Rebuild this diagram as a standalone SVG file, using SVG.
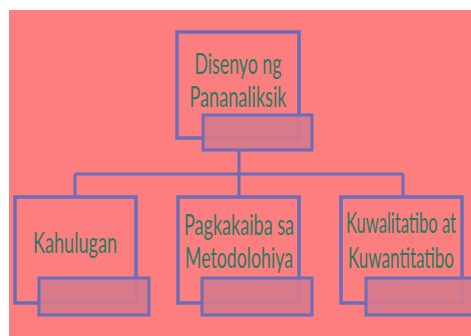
<svg xmlns="http://www.w3.org/2000/svg" width="471" height="336" viewBox="0 0 471 336">
<style>
.bg{fill:#fd7e7e}
.box{fill:#fd7e7e;stroke:#6b6db8;stroke-width:3.5}
.sub{fill:#d67a8c;fill-opacity:0.92;stroke:#6b6db8;stroke-width:3}
.conn{fill:none;stroke:#6b6db8;stroke-width:3}
.t{font-family:Lato,"Open Sans","Liberation Sans",sans-serif;font-size:16px;fill:#2c7a64;text-anchor:middle}
</style>
<rect x="0" y="0" width="471" height="336" fill="#ffffff"/>
<rect class="bg" x="9" y="10" width="462" height="326"/>
<g id="connectors">
<path class="conn" d="M239,150 V174 M75,174 H403 M75,174 V197 M239,174 V197 M403,174 V197"/>
</g>
<g id="node-top">
<rect class="box" x="177" y="32" width="122" height="106"/>
<text class="t" transform="translate(238,74) scale(1,1.75)" textLength="87" lengthAdjust="spacingAndGlyphs">Disenyo ng</text>
<text class="t" transform="translate(238,107) scale(1,1.75)" textLength="97" lengthAdjust="spacingAndGlyphs">Pananaliksik</text>
<rect class="sub" x="203" y="115" width="109" height="35"/>
</g>
<g id="node-kahulugan">
<rect class="box" x="15" y="197" width="121" height="106"/>
<text class="t" transform="translate(75,253) scale(1,1.75)" textLength="84" lengthAdjust="spacingAndGlyphs">Kahulugan</text>
<rect class="sub" x="39" y="278" width="110" height="37"/>
</g>
<g id="node-pagkakaiba">
<rect class="box" x="178" y="197" width="121" height="106"/>
<text class="t" transform="translate(239,235) scale(1,1.75)" textLength="110" lengthAdjust="spacingAndGlyphs">Pagkakaiba sa</text>
<text class="t" transform="translate(239,268) scale(1,1.75)" textLength="108" lengthAdjust="spacingAndGlyphs">Metodolohiya</text>
<rect class="sub" x="202" y="278" width="110" height="37"/>
</g>
<g id="node-kuwalitatibo">
<rect class="box" x="341" y="197" width="121" height="106"/>
<text class="t" transform="translate(401,233) scale(1,1.75)" textLength="110" lengthAdjust="spacingAndGlyphs">Kuwalitatibo at</text>
<text class="t" transform="translate(401,268) scale(1,1.75)" textLength="106" lengthAdjust="spacingAndGlyphs">Kuwantitatibo</text>
<rect class="sub" x="366" y="278" width="110" height="37"/>
</g>
</svg>
